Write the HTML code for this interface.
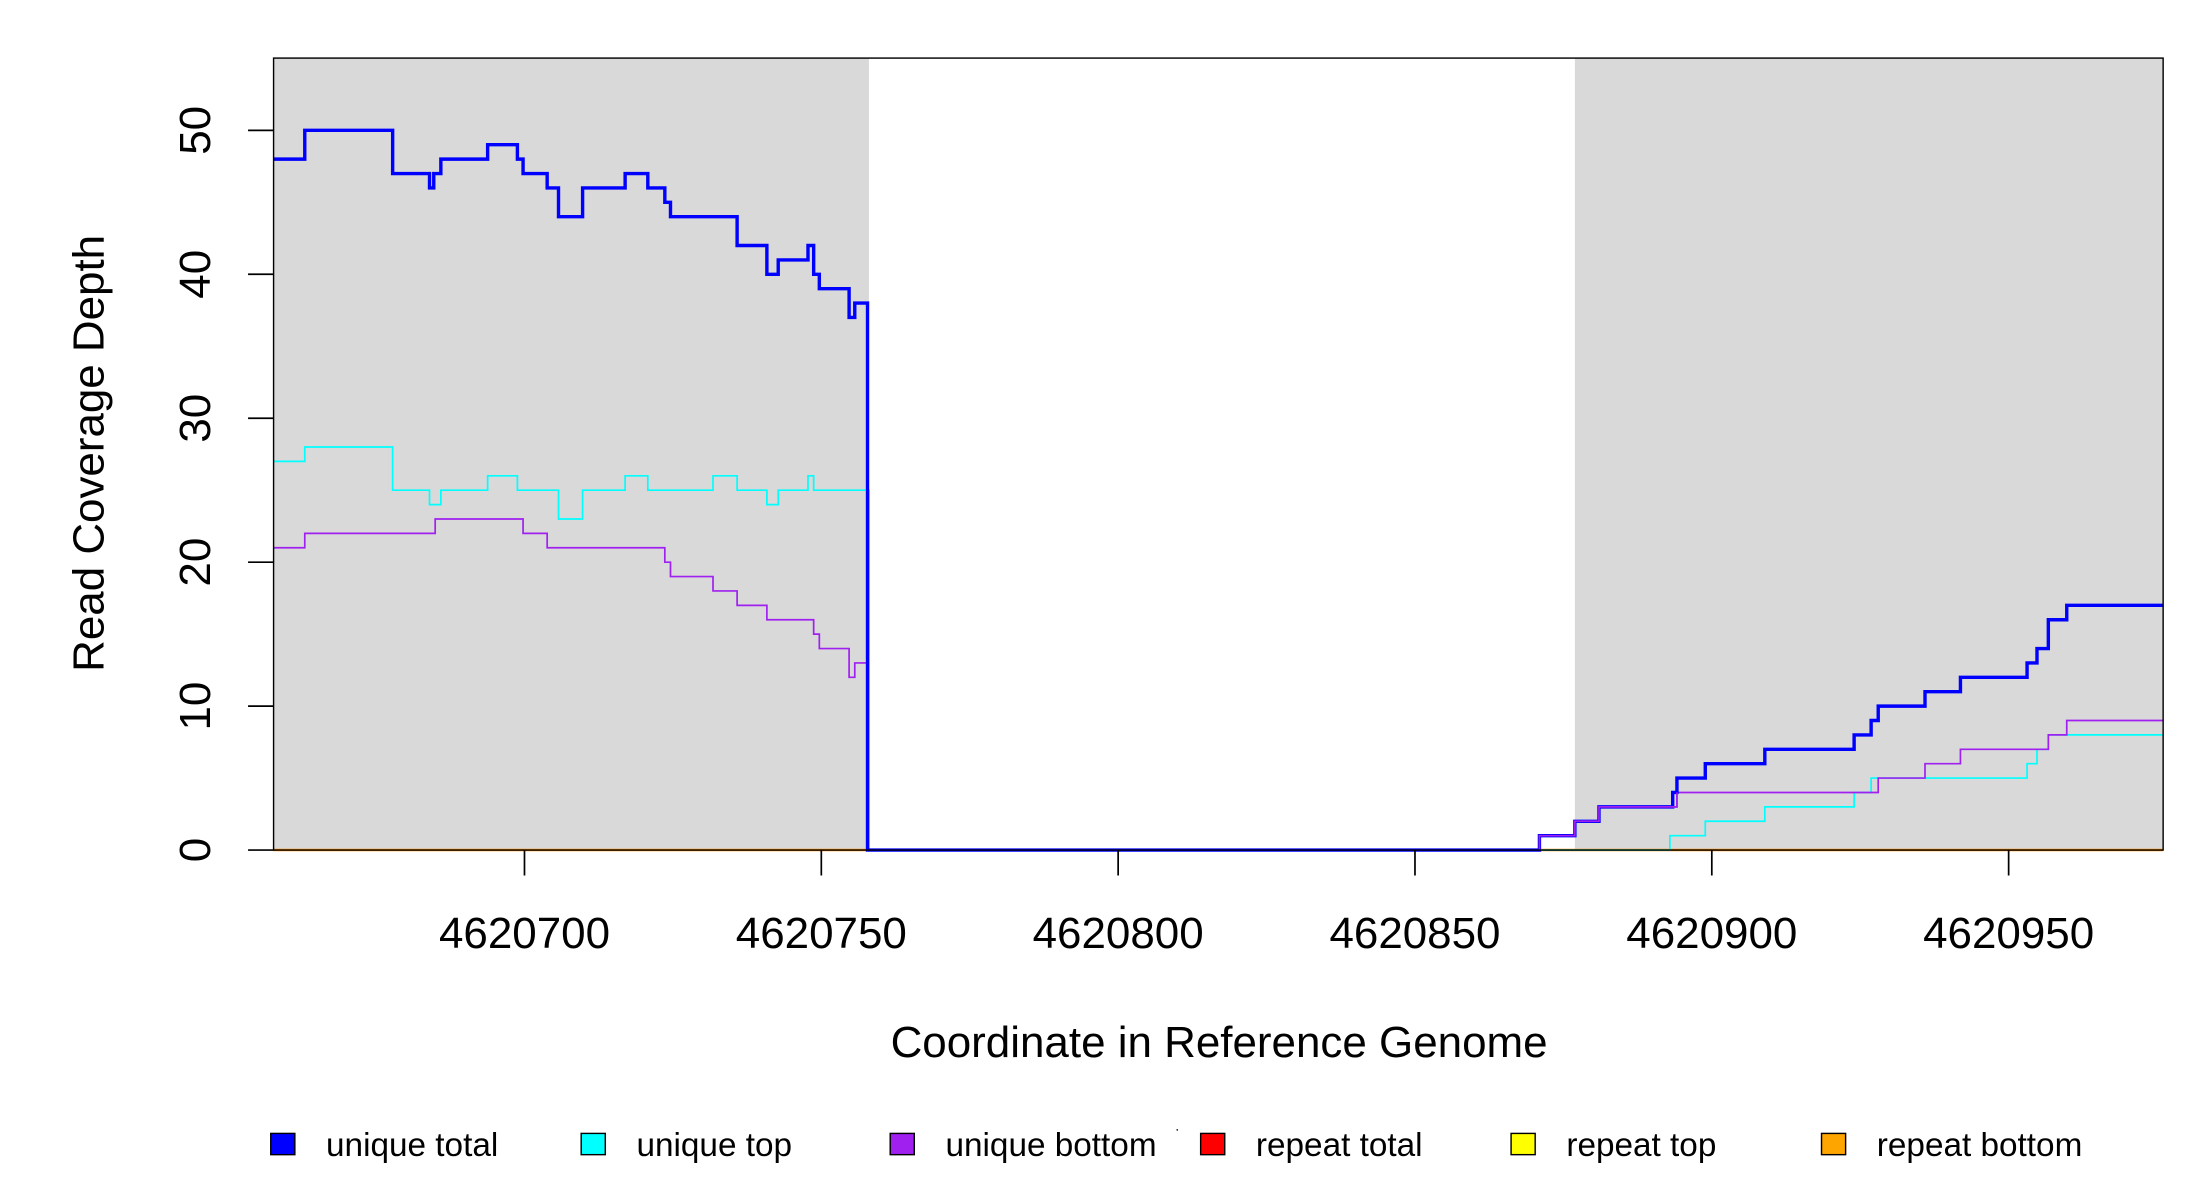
<!DOCTYPE html>
<html><head><meta charset="utf-8"><style>html,body{margin:0;padding:0;background:#fff}svg{display:block}</style></head>
<body>
<svg width="2200" height="1200" viewBox="0 0 1552 847" preserveAspectRatio="none" font-family="Liberation Sans, Arial, sans-serif">
<rect x="0" y="0" width="1552" height="847" fill="#fff"/>
<rect x="193" y="41" width="420" height="559" fill="#d9d9d9"/>
<rect x="1111" y="41" width="415" height="559" fill="#d9d9d9"/>
<g transform="translate(0,600) scale(1,-10.16)" fill="none">
<path vector-effect="non-scaling-stroke" stroke="#ff8c00" stroke-width="2.5" d="M193 0H1526"/>
<path vector-effect="non-scaling-stroke" stroke="#00ffff" stroke-width="1.7" d="M193 27H215V28H277V25H303V24H311V25H344V26H365V25H394V23H411V25H441V26H457V25H503V26H520V25H541V24H549V25H570V26H574V25H613V0H1178V1H1203V2H1245V3H1308V4H1320V5H1430V6H1437V7H1445V8H1526"/>
<path vector-effect="non-scaling-stroke" stroke="#a020f0" stroke-width="1.7" d="M193 21H215V22H307V23H369V22H386V21H469V20H473V19H503V18H520V17H541V16H574V15H578V14H599V12H603V13H612V0H1086V1H1111V2H1128V3H1183V4H1325V5H1358V6H1383V7H1445V8H1458V9H1526"/>
<path vector-effect="non-scaling-stroke" stroke="#0000ff" stroke-width="3.4" d="M193 48H215V50H277V47H303V46H306V47H311V48H344V49H365V48H369V47H386V46H394V44H411V46H441V47H457V46H469V45H473V44H520V42H541V40H549V41H570V42H574V40H578V39H599V37H603V38H612V0H1086V1H1111V2H1128V3H1180V4H1183V5H1203V6H1245V7H1308V8H1320V9H1325V10H1358V11H1383V12H1430V13H1437V14H1445V16H1458V17H1526"/>
<path vector-effect="non-scaling-stroke" stroke="#a020f0" stroke-width="1.7" d="M1086 0V1H1111V2H1128V3H1183V4"/>
</g>
<rect x="193" y="41" width="1333" height="559" fill="none" stroke="#000" stroke-width="1"/>
<g stroke="#000" stroke-width="1.2">
<path d="M175 600H193M175 498.4H193M175 396.8H193M175 295.2H193M175 193.6H193M175 92H193"/>
<path d="M370 600V618M579.4 600V618M788.8 600V618M998.2 600V618M1207.6 600V618M1417 600V618"/>
</g>
<g font-size="31" text-anchor="middle" fill="#000">
<text transform="translate(148,600) rotate(-90)">0</text>
<text transform="translate(148,498.4) rotate(-90)">10</text>
<text transform="translate(148,396.8) rotate(-90)">20</text>
<text transform="translate(148,295.2) rotate(-90)">30</text>
<text transform="translate(148,193.6) rotate(-90)">40</text>
<text transform="translate(148,92) rotate(-90)">50</text>
<text x="370" y="669">4620700</text>
<text x="579.4" y="669">4620750</text>
<text x="788.8" y="669">4620800</text>
<text x="998.2" y="669">4620850</text>
<text x="1207.6" y="669">4620900</text>
<text x="1417" y="669">4620950</text>
<text x="860" y="746">Coordinate in Reference Genome</text>
<text transform="translate(73,320) rotate(-90)">Read Coverage Depth</text>
</g>
<g font-size="23.5" fill="#000" stroke-width="1">
<rect x="191" y="800" width="17" height="15" fill="#0000ff" stroke="#000"/><text x="230" y="816">unique total</text>
<rect x="410" y="800" width="17" height="15" fill="#00ffff" stroke="#000"/><text x="449" y="816">unique top</text>
<rect x="628" y="800" width="17" height="15" fill="#a020f0" stroke="#000"/><text x="667" y="816">unique bottom</text>
<rect x="847" y="800" width="17" height="15" fill="#ff0000" stroke="#000"/><text x="886" y="816">repeat total</text>
<rect x="1066" y="800" width="17" height="15" fill="#ffff00" stroke="#000"/><text x="1105" y="816">repeat top</text>
<rect x="1285" y="800" width="17" height="15" fill="#ffa500" stroke="#000"/><text x="1324" y="816">repeat bottom</text>
<rect x="830" y="797" width="1" height="1" fill="#000"/>
</g>
</svg>
</body></html>
